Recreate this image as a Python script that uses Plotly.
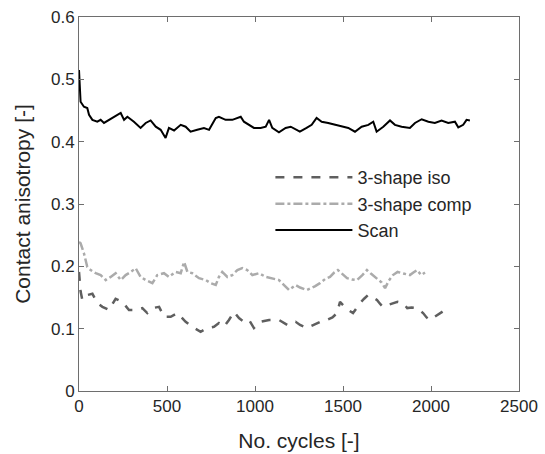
import plotly.graph_objects as go

# ---- data ----
scan_x = [0, 3, 6, 9, 28, 47, 57, 76, 104, 123, 142, 170, 199, 218, 237, 256, 275, 312, 350, 379,
          407, 436, 464, 492, 511, 540, 578, 606, 634, 672, 710, 739, 777, 795, 833, 871, 900, 919, 937, 966,
          994, 1032, 1061, 1080, 1098, 1136, 1174, 1203, 1231, 1255, 1293, 1322, 1350, 1379, 1416, 1454, 1492, 1530, 1568, 1606,
          1644, 1672, 1691, 1729, 1767, 1795, 1833, 1880, 1909, 1947, 1985, 2022, 2060, 2098, 2136, 2155, 2183, 2202, 2221]
scan_y = [0.515, 0.500, 0.472, 0.464, 0.456, 0.454, 0.443, 0.435, 0.432, 0.435, 0.430, 0.435, 0.440, 0.443, 0.446, 0.435, 0.440, 0.432, 0.422, 0.430,
          0.434, 0.424, 0.419, 0.406, 0.422, 0.418, 0.427, 0.424, 0.416, 0.419, 0.422, 0.419, 0.438, 0.440, 0.435, 0.435, 0.438, 0.440, 0.432, 0.427,
          0.422, 0.422, 0.424, 0.435, 0.422, 0.415, 0.422, 0.424, 0.419, 0.416, 0.422, 0.427, 0.438, 0.432, 0.430, 0.427, 0.424, 0.422, 0.416, 0.424,
          0.427, 0.432, 0.416, 0.424, 0.434, 0.427, 0.424, 0.422, 0.430, 0.436, 0.432, 0.430, 0.434, 0.430, 0.432, 0.423, 0.427, 0.435, 0.434]

comp_x = [0, 9, 28, 47, 66, 95, 123, 152, 180, 208, 237, 265, 294, 322, 350, 379, 417, 445, 483, 511,
          549, 578, 597, 616, 644, 682, 720, 748, 777, 795, 814, 843, 871, 900, 928, 956, 985, 1023, 1061, 1098,
          1136, 1165, 1193, 1231, 1256, 1295, 1313, 1340, 1369, 1400, 1426, 1450, 1471, 1500, 1523, 1550, 1580, 1610, 1636, 1660,
          1690, 1720, 1739, 1760, 1784, 1810, 1850, 1880, 1900, 1920, 1945, 1966]
comp_y = [0.239, 0.237, 0.221, 0.199, 0.194, 0.189, 0.186, 0.178, 0.183, 0.189, 0.178, 0.186, 0.191, 0.197, 0.183, 0.178, 0.173, 0.186, 0.189, 0.183,
          0.191, 0.189, 0.207, 0.191, 0.189, 0.181, 0.178, 0.173, 0.170, 0.183, 0.191, 0.183, 0.186, 0.194, 0.197, 0.194, 0.186, 0.189, 0.183, 0.181,
          0.178, 0.170, 0.162, 0.170, 0.166, 0.162, 0.164, 0.168, 0.173, 0.180, 0.183, 0.190, 0.194, 0.186, 0.181, 0.179, 0.178, 0.186, 0.194, 0.188,
          0.181, 0.174, 0.165, 0.177, 0.186, 0.191, 0.188, 0.186, 0.190, 0.194, 0.186, 0.190]

iso_x = [0, 4, 9, 19, 47, 76, 104, 133, 170, 208, 246, 284, 322, 360, 388, 417, 455, 483, 521, 559,
         606, 644, 691, 729, 767, 795, 824, 852, 881, 909, 937, 966, 994, 1032, 1080, 1136, 1184, 1231, 1256, 1295,
         1325, 1352, 1380, 1409, 1440, 1466, 1483, 1510, 1530, 1557, 1580, 1597, 1620, 1642, 1670, 1693, 1710, 1727, 1755, 1784,
         1810, 1841, 1865, 1890, 1920, 1955, 1975, 1994, 2015, 2034, 2060, 2080]
iso_y = [0.191, 0.175, 0.160, 0.146, 0.154, 0.156, 0.141, 0.135, 0.130, 0.148, 0.143, 0.130, 0.130, 0.133, 0.125, 0.133, 0.135, 0.119, 0.119, 0.125,
         0.111, 0.103, 0.095, 0.101, 0.103, 0.109, 0.103, 0.114, 0.127, 0.117, 0.111, 0.114, 0.101, 0.111, 0.114, 0.114, 0.106, 0.111, 0.106, 0.101,
         0.105, 0.109, 0.112, 0.114, 0.118, 0.125, 0.143, 0.135, 0.130, 0.125, 0.135, 0.141, 0.148, 0.154, 0.150, 0.146, 0.140, 0.135, 0.138, 0.141,
         0.143, 0.141, 0.133, 0.134, 0.133, 0.125, 0.118, 0.114, 0.118, 0.122, 0.126, 0.130]

x_ticks = [0, 500, 1000, 1500, 2000, 2500]
y_ticks = [0, 0.1, 0.2, 0.3, 0.4, 0.5, 0.6]
y_tick_text = ["0", "0.1", "0.2", "0.3", "0.4", "0.5", "0.6"]

FONT = "Liberation Sans, Arial, sans-serif"
TXT = "#262626"
AX = "#6e6e6e"

fig = go.Figure()
fig.add_trace(go.Scatter(x=iso_x, y=iso_y, mode="lines", name="3-shape iso",
                         line=dict(color="#5f5f5f", width=2.5, dash="dash")))
fig.add_trace(go.Scatter(x=comp_x, y=comp_y, mode="lines", name="3-shape comp",
                         line=dict(color="#ababab", width=2.5, dash="dashdot")))
fig.add_trace(go.Scatter(x=scan_x, y=scan_y, mode="lines", name="Scan",
                         line=dict(color="#000000", width=2)))

axis_common = dict(showgrid=False, zeroline=False, showline=True, linecolor=AX, linewidth=1,
                   mirror="ticks", ticks="inside", ticklen=5, tickcolor=AX, tickwidth=1,
                   automargin=False,
                   tickfont=dict(family=FONT, size=17, color=TXT))

fig.update_xaxes(range=[0, 2500], tickvals=x_ticks, ticktext=[str(v) for v in x_ticks],
                 title=dict(text="No. cycles [-]", font=dict(family=FONT, size=21, color=TXT), standoff=17),
                 **axis_common)
fig.update_yaxes(range=[0, 0.6], tickvals=y_ticks, ticktext=y_tick_text,
                 title=dict(text="Contact anisotropy [-]", font=dict(family=FONT, size=21, color=TXT), standoff=14),
                 **axis_common)

fig.update_layout(
    width=545, height=454,
    margin=dict(l=79, r=26, t=17, b=63),
    paper_bgcolor="white", plot_bgcolor="white",
    legend=dict(x=0.435, y=0.62, xanchor="left", yanchor="top",
                bgcolor="rgba(0,0,0,0)", borderwidth=0, itemwidth=77,
                font=dict(family=FONT, size=18, color=TXT), tracegroupgap=0),
)

fig.write_html("out.html")
